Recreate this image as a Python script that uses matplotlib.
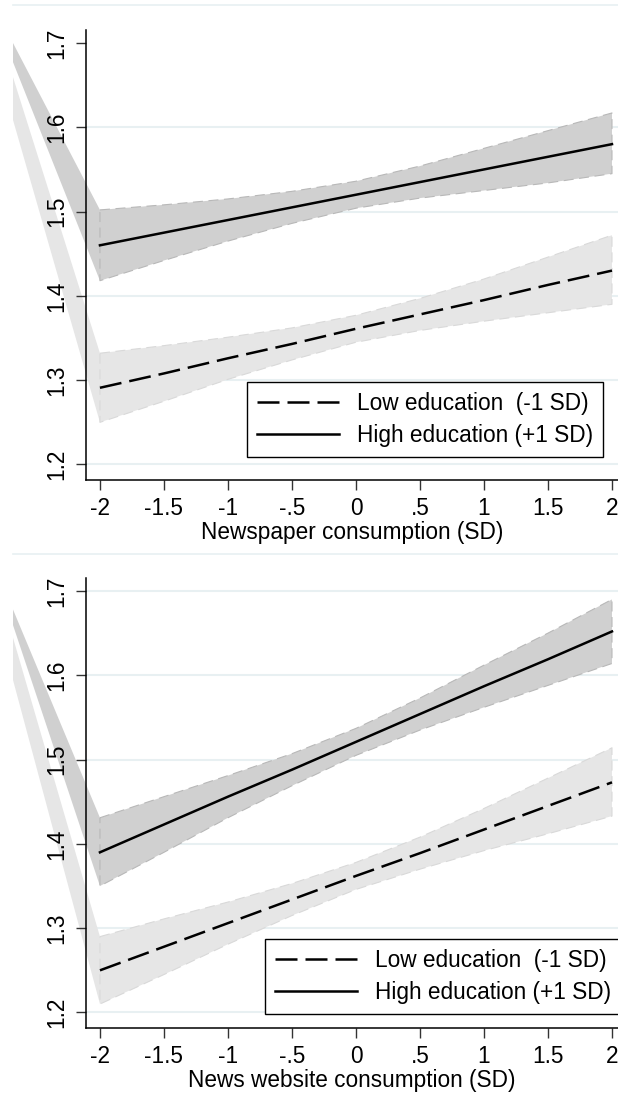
import matplotlib
matplotlib.use("Agg")
import matplotlib.pyplot as plt
from matplotlib.lines import Line2D
from matplotlib.patches import Rectangle

plt.rcParams['font.family'] = ['Liberation Sans', 'DejaVu Sans']

x = [-2, -1.5, -1, -0.5, 0, 0.5, 1, 1.5, 2]
xtick_labels = ["-2", "-1.5", "-1", "-.5", "0", ".5", "1", "1.5", "2"]
ytick_vals = [1.2, 1.3, 1.4, 1.5, 1.6, 1.7]
ytick_labels = ["1.2", "1.3", "1.4", "1.5", "1.6", "1.7"]
legend_labels = ["Low education  (-1 SD)", "High education (+1 SD)"]

# panel 1: newspaper consumption
paper_low = [1.291, 1.308, 1.326, 1.343, 1.361, 1.378, 1.395, 1.413, 1.430]
paper_low_hi = [1.332, 1.341, 1.351, 1.362, 1.377, 1.397, 1.420, 1.446, 1.472]
paper_low_lo = [1.250, 1.275, 1.301, 1.324, 1.345, 1.359, 1.370, 1.380, 1.390]
paper_high = [1.460, 1.475, 1.490, 1.505, 1.520, 1.535, 1.550, 1.565, 1.580]
paper_high_hi = [1.502, 1.508, 1.515, 1.524, 1.536, 1.554, 1.575, 1.596, 1.617]
paper_high_lo = [1.418, 1.442, 1.465, 1.486, 1.504, 1.516, 1.525, 1.534, 1.545]
paper_grid = [1.2, 1.3, 1.4, 1.5, 1.6]

# panel 2: news website consumption
web_low = [1.250, 1.278, 1.306, 1.334, 1.362, 1.389, 1.417, 1.445, 1.473]
web_low_hi = [1.290, 1.311, 1.331, 1.353, 1.378, 1.408, 1.442, 1.478, 1.514]
web_low_lo = [1.210, 1.245, 1.281, 1.315, 1.346, 1.370, 1.392, 1.412, 1.433]
web_high = [1.390, 1.423, 1.456, 1.488, 1.521, 1.554, 1.587, 1.619, 1.652]
web_high_hi = [1.431, 1.456, 1.481, 1.507, 1.537, 1.573, 1.612, 1.650, 1.690]
web_high_lo = [1.350, 1.390, 1.431, 1.469, 1.505, 1.535, 1.562, 1.588, 1.614]
web_grid = [1.2, 1.3, 1.4, 1.5, 1.6, 1.7]

# stray first vertex of the ci area (sits off to the left in the original export)
paper_low_stray = (-3.78, 2.19)
paper_high_stray = (-2.93, 1.773)
web_low_stray = (-3.82, 2.24)
web_high_stray = (-2.88, 1.751)

W, H = 618, 1093
DARK = "#d0d0d0"
LIGHT = "#e6e6e6"
GRID = "#e8f0f2"
FS = 16.3

fig = plt.figure(figsize=(W / 100, H / 100), dpi=100)


def band(ax, clip, stray, hi, lo, fillc, edgec):
    xs = [stray[0]] + x + x[::-1]
    ys = [stray[1]] + hi + lo[::-1]
    for p in ax.fill(xs, ys, color=fillc, lw=0, zorder=1):
        p.set_clip_path(clip)
        p.set_clip_on(True)
    ax.plot(x + x[::-1] + [x[0]], hi + lo[::-1] + [hi[0]], color=edgec,
            lw=0.8, dashes=(9, 5), zorder=1.2)


def panel(top_px, bot_px, region, low, low_hi, low_lo, low_stray,
          high, high_hi, high_lo, high_stray, grid_vals, xlabel, leg_xy):
    ax = fig.add_axes([86 / W, 1 - bot_px / H, (W - 86) / W, (bot_px - top_px) / H])
    clip = Rectangle((13 / W, 1 - region[1] / H), (W - 13) / W, (region[1] - region[0]) / H,
                     transform=fig.transFigure, facecolor="none")
    for g in grid_vals:
        ax.axhline(g, color=GRID, lw=1.5, zorder=0)
    band(ax, clip, low_stray, low_hi, low_lo, LIGHT, "#d9d9d9")
    band(ax, clip, high_stray, high_hi, high_lo, DARK, "#b8b8b8")
    ax.plot(x, low, color="black", lw=1.8, dashes=(8.8, 3.2), zorder=3)
    ax.plot(x, high, color="black", lw=1.8, zorder=3)
    ax.set_xlim(-2.109, 2.047)
    ax.set_ylim(1.1816, 1.7154)
    ax.set_xticks(x)
    ax.set_xticklabels(xtick_labels)
    ax.set_yticks(ytick_vals)
    ax.set_yticklabels(ytick_labels, rotation=90, va="center")
    ax.tick_params(axis="both", labelsize=FS, length=7, width=1, color="#333333", pad=5)
    ax.tick_params(axis="y", pad=6)
    for s in ["top", "right"]:
        ax.spines[s].set_visible(False)
    ax.spines["left"].set_linewidth(1.1)
    ax.spines["bottom"].set_linewidth(1.1)
    ax.set_xlabel(xlabel, fontsize=FS, labelpad=1)
    handles = [Line2D([], [], color="black", lw=1.8, dashes=(8.8, 3.2)),
               Line2D([], [], color="black", lw=1.8)]
    leg = ax.legend(handles, legend_labels, loc="upper left",
                    bbox_to_anchor=(leg_xy[0] / W, 1 - leg_xy[1] / H),
                    bbox_transform=fig.transFigure, fontsize=FS, frameon=True,
                    fancybox=False, edgecolor="black", framealpha=1, borderaxespad=0,
                    handlelength=3.6, handletextpad=0.8, borderpad=0.45, labelspacing=0.4)
    leg.get_frame().set_linewidth(1.0)
    # faint outline of the graph region
    fig.add_artist(Line2D([13 / W, 1], [1 - region[0] / H] * 2, color=GRID, lw=1.2))
    return ax


panel(30, 480, (5, 554), paper_low, paper_low_hi, paper_low_lo, paper_low_stray,
      paper_high, paper_high_hi, paper_high_lo, paper_high_stray, paper_grid,
      "Newspaper consumption (SD)", (247, 382))
panel(578, 1028, (554, 1093), web_low, web_low_hi, web_low_lo, web_low_stray,
      web_high, web_high_hi, web_high_lo, web_high_stray, web_grid,
      "News website consumption (SD)", (265, 939))

plt.savefig("out.png", dpi=100)
